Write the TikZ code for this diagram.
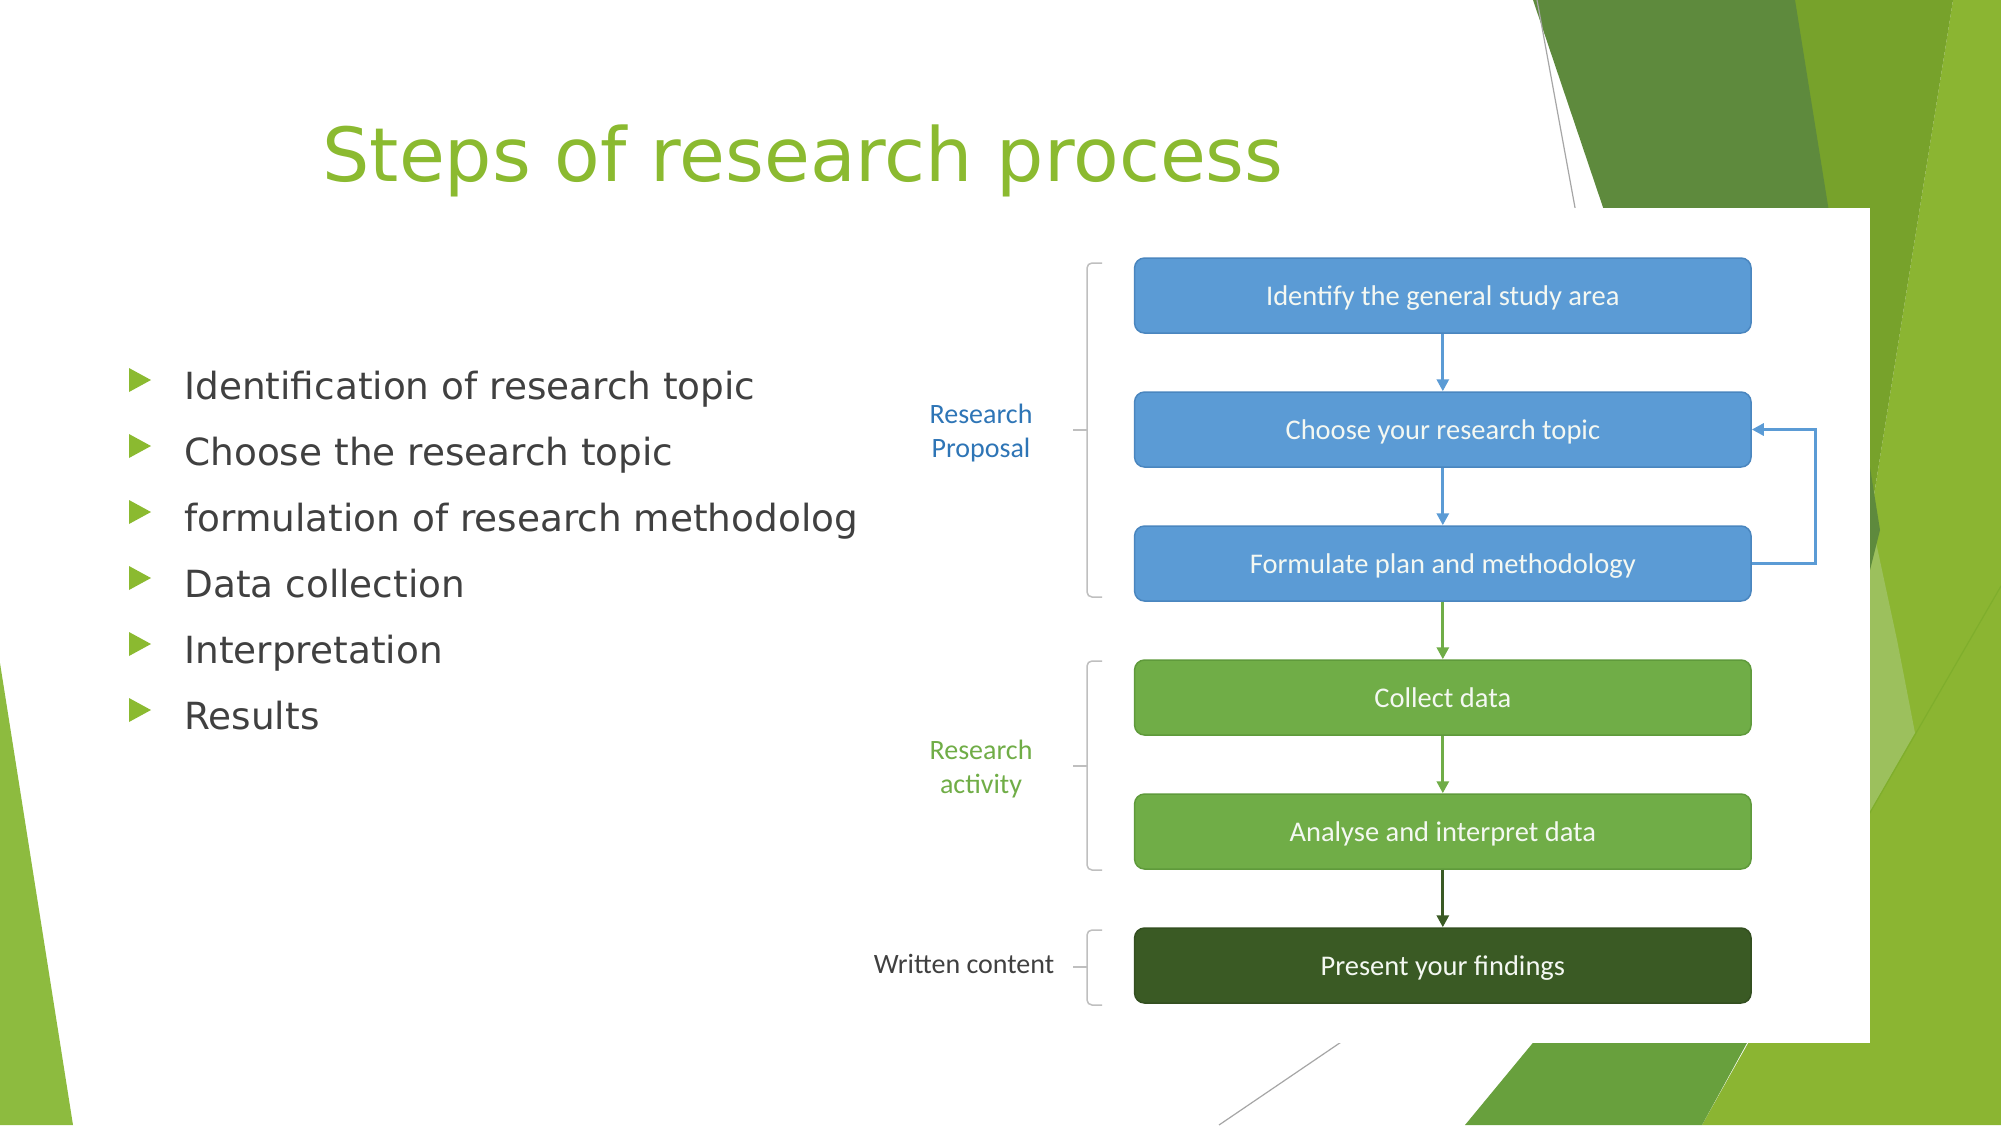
\documentclass[tikz,border=0pt]{standalone}
\usepackage{fontspec}
\setmainfont{DejaVu Sans}
\newfontfamily\carlito{Carlito}
\usetikzlibrary{arrows.meta}
\definecolor{accentgreen}{HTML}{8BBA30}
\definecolor{bodygray}{HTML}{404040}
\definecolor{boxblue}{HTML}{5B9BD5}
\definecolor{boxblueedge}{HTML}{4A86BF}
\definecolor{boxgreen}{HTML}{70AD47}
\definecolor{boxgreenedge}{HTML}{5F9A3B}
\definecolor{boxdark}{HTML}{3A5A24}
\definecolor{boxdarkedge}{HTML}{334F20}
\definecolor{boxtext}{HTML}{F4F8F2}
\definecolor{labelblue}{HTML}{2E75B6}
\definecolor{labelgreen}{HTML}{70AD47}
\definecolor{bracketgray}{HTML}{BFBFBF}
\definecolor{bglight}{HTML}{8BB532}
\definecolor{bgolive}{HTML}{77A22B}
\definecolor{bgdark}{HTML}{5E8A3D}
\definecolor{bgpale}{HTML}{9CC05D}
\definecolor{bgmid}{HTML}{68A03D}
\definecolor{bgleft}{HTML}{8DBB3F}
\definecolor{bgline}{HTML}{A6A6A6}
\definecolor{bgdiag}{HTML}{7FAE2C}
\begin{document}
\begin{tikzpicture}[x=0.5pt,y=-0.5pt,
  boxbase/.style={rounded corners=5pt, minimum width=308.25pt, minimum height=37.5pt,
    inner sep=0pt, font=\carlito\fontsize{14.25}{17}\selectfont, text=boxtext, line width=0.75pt,
    text height=1.2em, text depth=0.2em},
  bluebox/.style={boxbase, fill=boxblue, draw=boxblueedge},
  greenbox/.style={boxbase, fill=boxgreen, draw=boxgreenedge},
  darkbox/.style={boxbase, fill=boxdark, draw=boxdarkedge},
  flowarrow/.style={line width=1.5pt, -{Triangle[length=6pt,width=6pt]}},
  bracketline/.style={draw=bracketgray, line width=0.75pt, rounded corners=2.5pt},
  sidelabel/.style={font=\carlito\fontsize{14}{17}\selectfont, align=center},
  bullettext/.style={anchor=base west, text=bodygray, font=\fontsize{18.7}{22}\selectfont, inner sep=0pt},
  bulletmark/.style={fill=accentgreen},
  bgline/.style={draw=bgline, line width=0.6pt}]
\useasboundingbox (0,0) rectangle (2001,1125);
\fill[white] (0,0) rectangle (2001,1125);
% background facets
\fill[bglight] (1953,0) -- (2001,0) -- (2001,1125) -- (1702,1125) -- (1760,1022) -- (1850,640) -- (1870,520) -- cycle;
\fill[bgolive] (1795,0) -- (1953,0) -- (1870,520) -- (1700,600) -- cycle;
\fill[bgpale] (1868,505) -- (1897,640) -- (1915,733) -- (1868,815) -- cycle;
\draw[draw=bgdiag, line width=0.6pt] (2001,586) -- (1868,816);
\fill[bgdark] (1533,0) -- (1795,0) -- (1880,530) -- (1868,578) -- (1700,500) -- (1614,240) -- cycle;
\draw[bgline] (1537,0) -- (1580,235);
\fill[bgmid] (1465,1125) -- (1702,1125) -- (1765,1010) -- (1560,1010) -- cycle;
\draw[bgline] (1350,1036) -- (1219,1125);
% panel
\fill[white] (865,208) rectangle (1869.5,1042.6);
\fill[bgleft] (0,663) -- (73,1125) -- (0,1125) -- cycle;
% title
\node[anchor=base, text=accentgreen, font=\fontsize{37.3}{44}\selectfont, inner sep=0pt] (title) at (803,181) {Steps of research process};
% bullets
\node[bullettext] (t1) at (184,399.5) {Identification of research topic};
\node[bullettext] (t2) at (184,465.5) {Choose the research topic};
\node[bullettext] (t3) at (184,531.5) {formulation of research methodolog};
\node[bullettext] (t4) at (184,597.5) {Data collection};
\node[bullettext] (t5) at (184,663.5) {Interpretation};
\node[bullettext] (t6) at (184,729.5) {Results};
\foreach \yy in {380,446,512,578,644,710}{
  \fill[bulletmark] (129,\yy-12) -- (151,\yy) -- (129,\yy+12) -- cycle;
}
% flowchart
\node[bluebox] (b1) at (1442.8,295.5) {Identify the general study area};
\node[bluebox] (b2) at (1442.8,429.5) {Choose your research topic};
\node[bluebox] (b3) at (1442.8,563.5) {Formulate plan and methodology};
\node[greenbox] (g1) at (1442.8,697.5) {Collect data};
\node[greenbox] (g2) at (1442.8,831.5) {Analyse and interpret data};
\node[darkbox] (d1) at (1442.8,965.5) {Present your findings};
\draw[flowarrow, boxblue] (b1) -- (b2);
\draw[flowarrow, boxblue] (b2) -- (b3);
\draw[flowarrow, boxgreen] (b3) -- (g1);
\draw[flowarrow, boxgreen] (g1) -- (g2);
\draw[flowarrow, boxdark] (g2) -- (d1);
\draw[flowarrow, boxblue] (b3.east) -- ++(63.6,0) |- (b2.east);
% brackets
\draw[bracketline] (1102,263) -- (1087,263) -- (1087,597) -- (1102,597);
\draw[bracketline] (1087,430) -- (1073,430);
\draw[bracketline] (1102,661) -- (1087,661) -- (1087,870) -- (1102,870);
\draw[bracketline] (1087,766) -- (1073,766);
\draw[bracketline] (1102,930) -- (1087,930) -- (1087,1005) -- (1102,1005);
\draw[bracketline] (1087,967) -- (1073,967);
% side labels
\node[sidelabel, text=labelblue] (lp) at (981,433) {Research\\Proposal};
\node[sidelabel, text=labelgreen] (la) at (981,769) {Research\\activity};
\node[sidelabel, text=bodygray] (lw) at (964,964) {Written content};
\end{tikzpicture}
\end{document}
